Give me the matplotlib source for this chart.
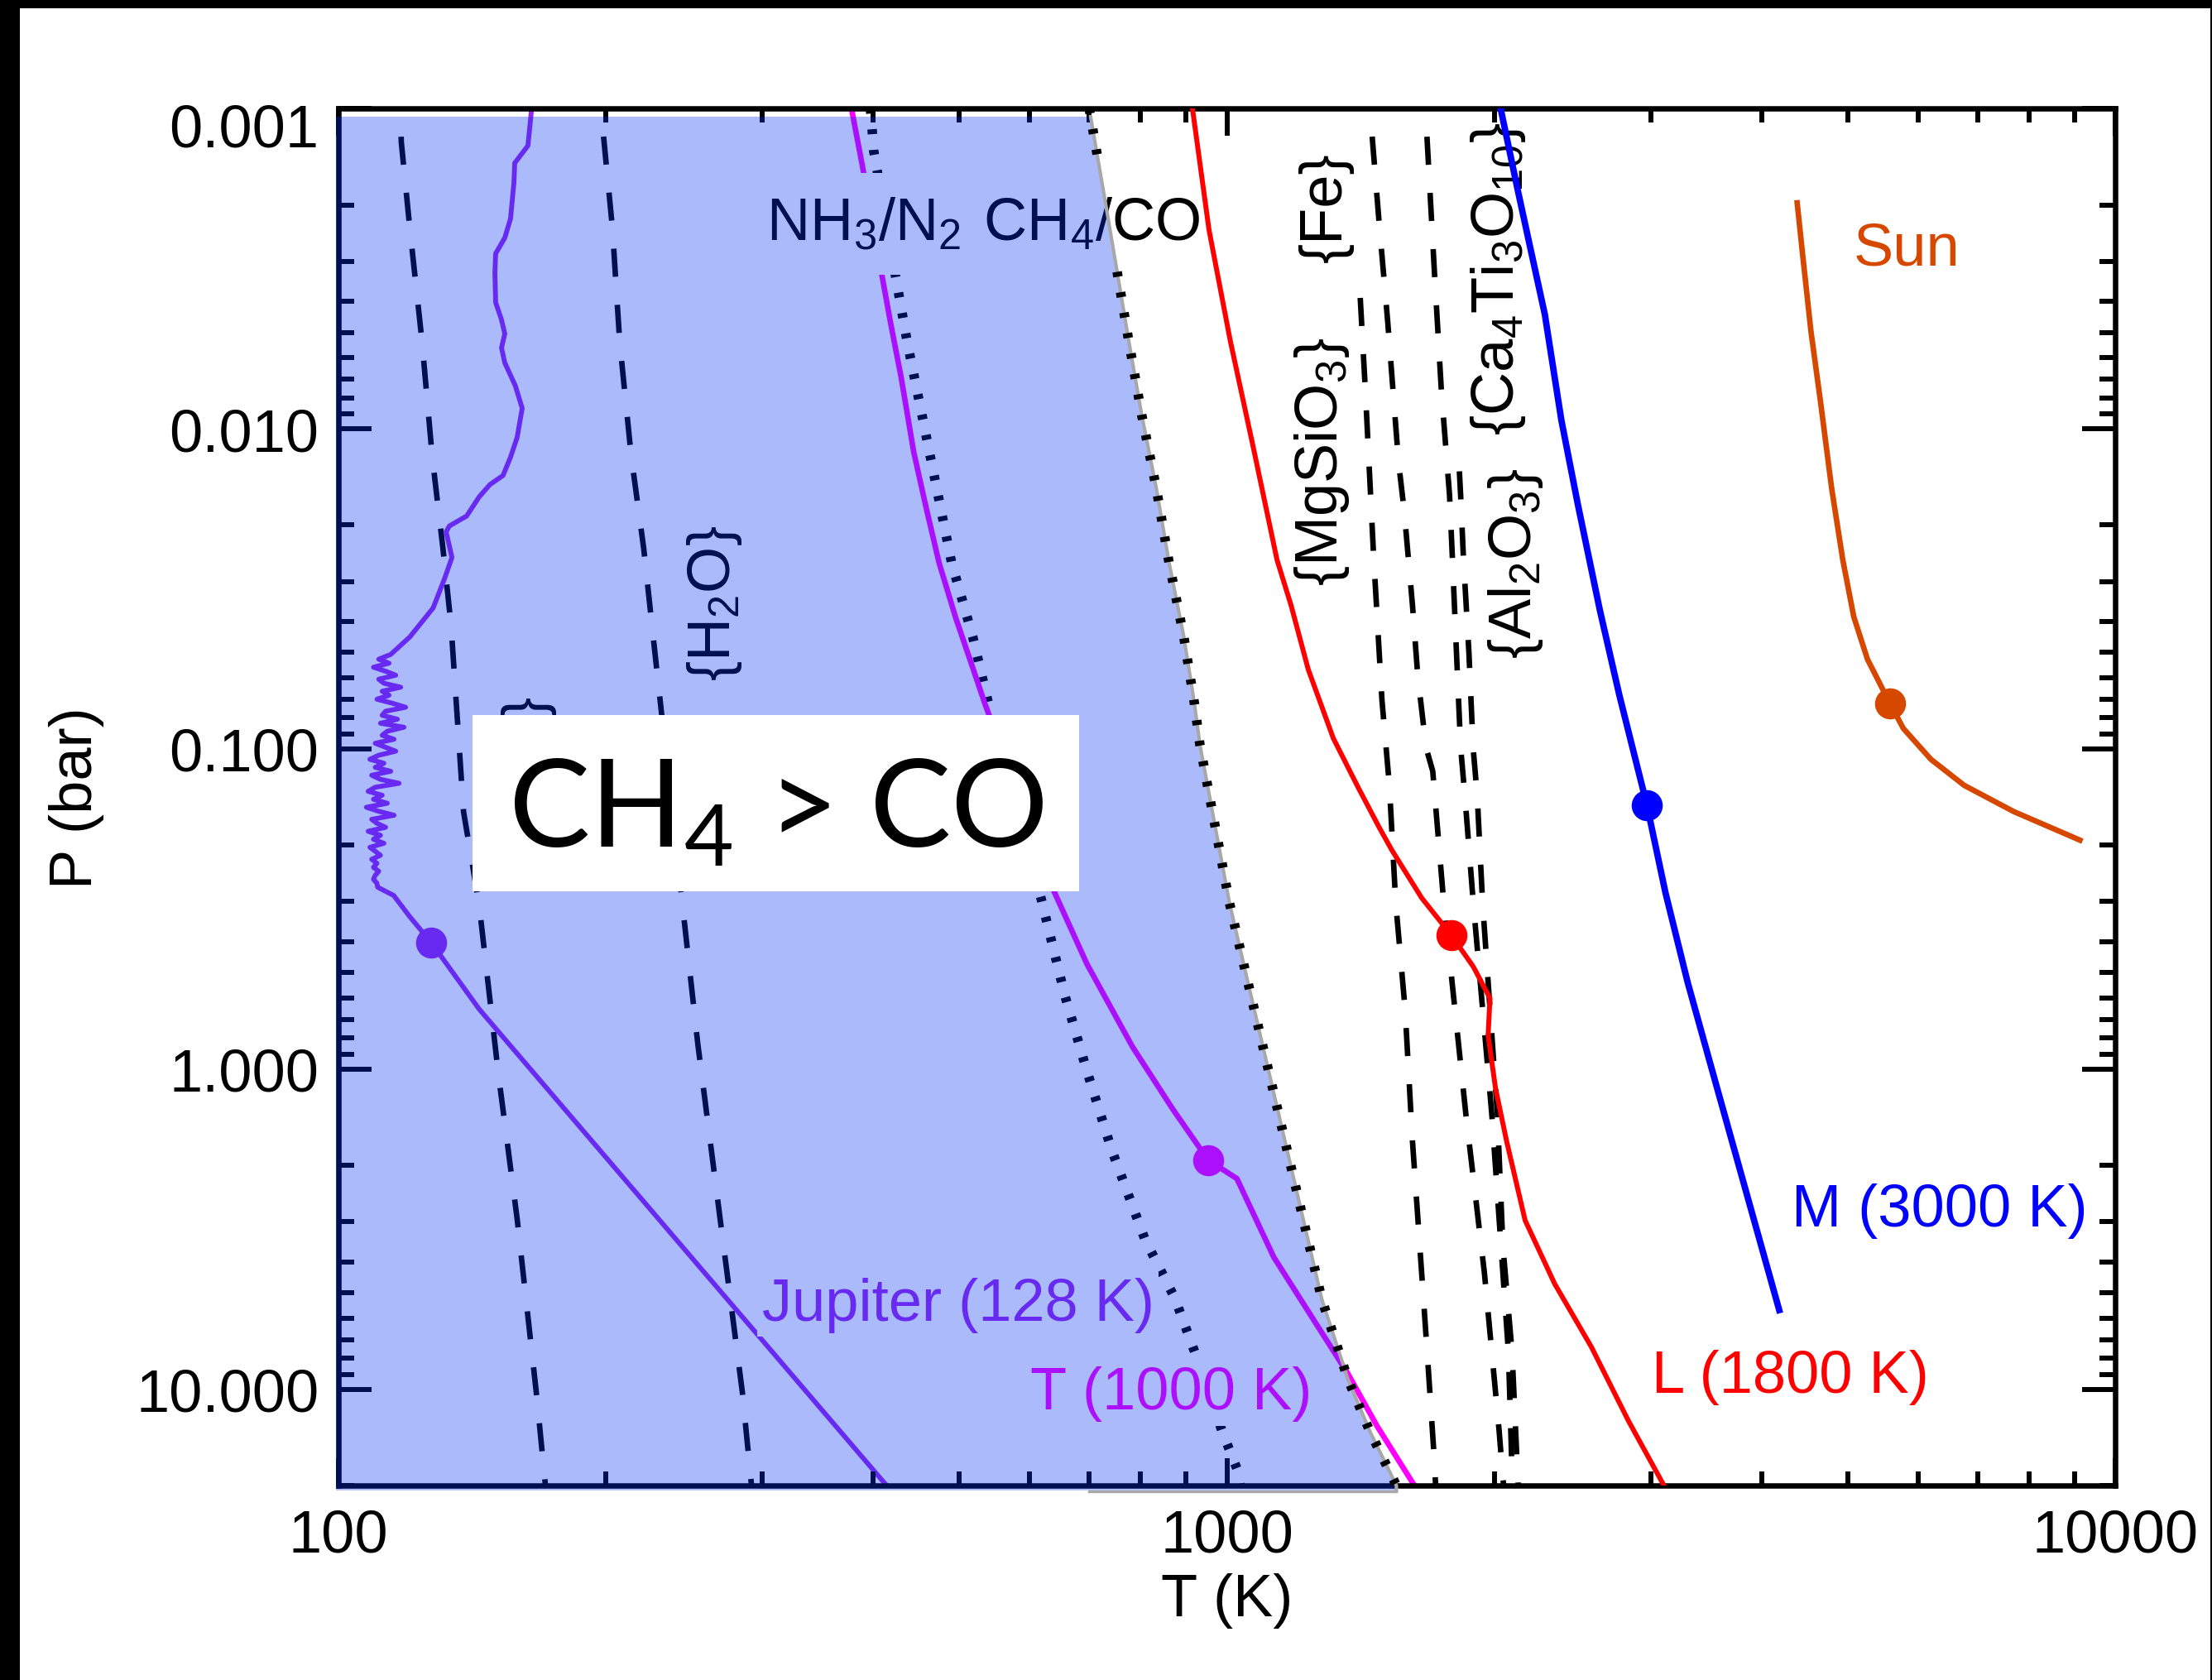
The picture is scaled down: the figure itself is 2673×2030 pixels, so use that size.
import numpy as np
import matplotlib
matplotlib.use('Agg')
import matplotlib.pyplot as plt
from matplotlib.patches import Rectangle, Polygon
from matplotlib.path import Path
from matplotlib.ticker import FixedLocator, NullFormatter, LogLocator
import matplotlib.transforms as mtransforms

plt.rcParams['font.family'] = ['Liberation Sans', 'DejaVu Sans']
plt.rcParams['mathtext.fontset'] = 'custom'
plt.rcParams['mathtext.rm'] = 'Liberation Sans'
plt.rcParams['mathtext.it'] = 'Liberation Sans:italic'
plt.rcParams['mathtext.bf'] = 'Liberation Sans:bold'
plt.rcParams['mathtext.sf'] = 'Lato'
plt.rcParams['mathtext.default'] = 'rm'

# ---------------- data (T in K, P in bar) ----------------
jup_T = [165, 163.4, 157.9, 157.6, 156.2, 153.9, 150.3, 150.0, 150.3, 152.6, 153.9, 152.6,
         153.9, 158.2, 161.0, 158.9, 156.2, 153.2, 148.1, 144.0, 139.4, 133.3, 132.2, 134.2,
         131.6, 127.8, 120.3, 114.5,
         111, 114, 109.5, 113, 116, 111, 112.5, 117.5, 112, 114, 110.5, 115, 119, 113, 112,
         116.5, 111.5, 118.5, 113.5, 112, 115.5, 110, 113, 116, 111, 108.5, 112.5, 110, 114.5,
         109, 111.5, 117, 110, 108, 112, 109.5, 113.5, 107.5, 111, 115.5, 109, 110.5, 113,
         108, 111.5, 109.5, 112.5, 108.5, 110, 111.5, 109, 110.5, 109.5, 111, 110, 109.5, 110.5,
         110.7, 115.4, 120.2, 127.1, 144.0, 414]
jup_P = [0.001, 0.001306, 0.00148, 0.001698, 0.002207, 0.002533, 0.002837, 0.003254, 0.004033,
         0.00457, 0.00505, 0.005591, 0.006223, 0.007354, 0.008636, 0.01064, 0.01227, 0.014,
         0.01494, 0.01633, 0.01874, 0.02013, 0.02099, 0.02525, 0.02948, 0.03631, 0.04473,
         0.0507,
         0.05248, 0.05401, 0.05559, 0.05721, 0.05888, 0.06060, 0.06237, 0.06419, 0.06607,
         0.06800, 0.06998, 0.07202, 0.07413, 0.07629, 0.07852, 0.08081, 0.08318, 0.08560,
         0.08810, 0.09068, 0.09333, 0.09605, 0.09886, 0.1017, 0.1047, 0.1078, 0.1109, 0.1142,
         0.1175, 0.1209, 0.1245, 0.1281, 0.1318, 0.1357, 0.1396, 0.1437, 0.1479, 0.1522,
         0.1567, 0.1612, 0.1660, 0.1708, 0.1758, 0.1809, 0.1862, 0.1916, 0.1972, 0.2030,
         0.2089, 0.2150, 0.2213, 0.2277, 0.2344, 0.2412, 0.2483, 0.2555, 0.2630,
         0.2705, 0.2871, 0.3334, 0.4018, 0.650, 20.0]
jup_dot = (127.1, 0.4018)

tdw_T = [378, 388.7, 406.7, 418.2, 430.0, 444.1, 458.6, 474.3, 495.4, 514.9, 534.0, 638.4,
         696.2, 783.1, 868.4, 952.8, 1026.4, 1129.6, 1243.3, 1368.2, 1476.8, 1626]
tdw_P = [0.001, 0.001502, 0.003041, 0.004653, 0.006929, 0.0118, 0.01759, 0.02622, 0.03907,
         0.05347, 0.0721, 0.2771, 0.471, 0.8525, 1.329, 1.926, 2.199, 3.873, 5.885, 8.935,
         13.07, 20.0]
tdw_dot = (952.8, 1.926)

ldw_T = [914.8, 954.9, 1009, 1070, 1139, 1181, 1235, 1317.9, 1404.6, 1484.5, 1534.5, 1657.1,
         1788.5, 1894.4, 1978, 1968.5, 2006.5, 2065, 2166.5, 2338.8, 2573, 2832.7, 3105]
ldw_P = [0.001, 0.002393, 0.005313, 0.0113, 0.0257, 0.03556, 0.0565, 0.09268, 0.1315, 0.1761,
         0.2076, 0.2922, 0.3813, 0.4791, 0.6013, 0.7849, 1.148, 1.679, 2.969, 4.685, 7.389,
         12.58, 20.0]
ldw_dot = (1788.5, 0.3813)

mdw_T = [2033.5, 2122.6, 2199.8, 2280.2, 2380, 2484.2, 2630.1, 2765.5, 2971.5, 3117.2, 3302.1,
         3563.9, 3847.8, 4186.4]
mdw_P = [0.001, 0.001765, 0.002785, 0.004394, 0.009399, 0.01726, 0.03693, 0.06781, 0.1502,
         0.2814, 0.5368, 1.148, 2.455, 5.664]
mdw_dot = (2971.5, 0.1502)

sun_T = [4385.5, 4448.7, 4544.9, 4660.4, 4795.3, 4935.3, 5078.2, 5262.6, 5579.2, 5773.9,
         6202.1, 6760.8, 7688.4, 9126.6]
sun_P = [0.00197, 0.00287, 0.004959, 0.008281, 0.01534, 0.02563, 0.03864, 0.05253, 0.07223,
         0.0863, 0.1078, 0.13, 0.157, 0.1928]
sun_dot = (5579.2, 0.07223)

# CH4/CO equal-abundance boundary
co_T = [700, 726.9, 750.9, 775.5, 802.0, 833.2, 861.0, 894.5, 919.4, 932.6, 969.1, 1007,
        1056.3, 1108.3, 1162.7, 1219.8, 1279.4, 1368.2, 1449.3, 1552]
co_P = [0.001, 0.001834, 0.003121, 0.005313, 0.009046, 0.01539, 0.02622, 0.04463, 0.0721,
        0.097, 0.1717, 0.3034, 0.5368, 0.9495, 1.679, 2.969, 5.248, 9.285, 13.57, 20.0]

# NH3/N2 equal-abundance boundary
nh3_T = [397, 398.0, 400.3, 422.7, 436.5, 453.7, 471.5, 490.0, 517.6, 539.0, 618.1, 657.1,
         695.7, 741.9, 808.6, 874, 932.6, 988, 1026.4, 1035]
nh3_P = [0.001, 0.001077, 0.00135, 0.003206, 0.005313, 0.009046, 0.01539, 0.02622, 0.04463,
         0.0721, 0.2945, 0.5885, 1.013, 1.789, 3.401, 5.2, 8.47, 13.57, 17.7, 20.0]

# condensation curves
nh3c_T = [117.3, 117.7, 120.3, 124.2, 127.5, 131.1, 133.9, 138.3, 144.0, 151.3, 158.9, 167.0, 171.0]
nh3c_P = [0.001, 0.001277, 0.002356, 0.005362, 0.01221, 0.02364, 0.04115, 0.1573, 0.3066,
          1.028, 2.935, 10.25, 20.0]
h2o_T = [197.4, 199.1, 203.4, 207.3, 213.6, 220.6, 226.1, 241.5, 253.8, 268.9, 284.9, 291.7]
h2o_P = [0.001, 0.001277, 0.002356, 0.005362, 0.01221, 0.02364, 0.04473, 0.2386, 0.8344,
         2.935, 10.25, 20.0]
fe_T = [1407.4, 1432.2, 1463.3, 1495, 1524, 1549.4, 1587.3, 1618, 1649.2, 1681, 1713.5, 1718]
fe_P = [0.003189, 0.007627, 0.02526, 0.07047, 0.13, 0.3034, 0.6493, 1.679, 3.591, 7.68, 17.06, 20.0]
mgsio3_T = [1449, 1458.3, 1484.6, 1516.8, 1538.6, 1560.7, 1583.3, 1618, 1640.6, 1676.1, 1705.3,
            1754.8, 1806, 1858.4, 1903.7, 1949.8, 1987.5, 2025.9, 2045.6, 2050]
mgsio3_P = [0.001, 0.001245, 0.002303, 0.004564, 0.007627, 0.01274, 0.01793, 0.03555, 0.0594,
            0.0992, 0.1174, 0.3034, 0.6493, 1.388, 2.455, 4.341, 7.68, 13.58, 19.11, 20.0]
al2o3_T = [1675, 1680.5, 1712.8, 1744, 1781.4, 1794.3, 1813.5, 1833.3, 1853.2, 1894.4, 1940.6,
           1987.5, 2035.6, 2075, 2094.6, 2100]
al2o3_P = [0.001, 0.001245, 0.003243, 0.007627, 0.01619, 0.02526, 0.05006, 0.0992, 0.1397,
           0.3034, 0.6493, 1.388, 3.591, 7.68, 18.4, 20.0]
cati_T = [1820.2, 1833.3, 1846.4, 1873, 1893.4, 1913.6, 1940.6, 1978.2, 2016.4, 2045.6, 2094.6,
          2124.9, 2128]
cati_P = [0.0111, 0.01619, 0.02526, 0.05006, 0.0992, 0.1397, 0.3034, 0.6493, 1.388, 3.591,
          7.68, 18.4, 20.0]

x_ticks = [100, 1000, 10000]
x_ticklabels = ['100', '1000', '10000']
y_ticks = [0.001, 0.01, 0.1, 1.0, 10.0]
y_ticklabels = ['0.001', '0.010', '0.100', '1.000', '10.000']

# ---------------- styles ----------------
JUP = '#9B28F0'
TCOL = '#FF00FF'
LCOL = '#FF0000'
MCOL = '#0000FF'
SUNCOL = '#D64800'
OVERLAY = (0.0, 48 / 255, 245 / 255, 0.33)
GRAY = '#A8A8A8'
FS = 52
ZLAB = 2.3

fig = plt.figure(figsize=(26.73, 20.31), dpi=100)
fig.patch.set_facecolor('white')
ax = fig.add_axes([409 / 2673, 1 - 1796 / 2031, 2147 / 2673, 1663.8 / 2031])
ax.set_xscale('log')
ax.set_yscale('log')
ax.set_xlim(100, 10000)
ax.set_ylim(20, 0.001)
ax.set_axisbelow(False)

dash = (5.1, (5.1, 5.1))
dot = (0, (0.52, 1.65))

# condensation curves
for T, P in [(nh3c_T, nh3c_P), (h2o_T, h2o_P), (fe_T, fe_P), (mgsio3_T, mgsio3_P),
             (al2o3_T, al2o3_P), (cati_T, cati_P)]:
    ax.plot(T, P, color='black', lw=4.8, ls=dash, dash_capstyle='butt', zorder=2)

# NH3/N2 boundary
ax.plot(nh3_T, nh3_P, color='black', lw=8.3, ls=dot, dash_capstyle='butt', zorder=2)

# profiles
ax.plot(jup_T, jup_P, color=JUP, lw=4.2, zorder=2)
ax.plot([jup_dot[0]], [jup_dot[1]], 'o', ms=26, color=JUP, zorder=2)
ax.plot(tdw_T, tdw_P, color=TCOL, lw=4.8, zorder=2)
ax.plot([tdw_dot[0]], [tdw_dot[1]], 'o', ms=26, color=TCOL, zorder=2)
ax.plot(ldw_T, ldw_P, color=LCOL, lw=4.3, zorder=4)
ax.plot([ldw_dot[0]], [ldw_dot[1]], 'o', ms=26, color=LCOL, zorder=4)
ax.plot(mdw_T, mdw_P, color=MCOL, lw=5.6, zorder=4)
ax.plot([mdw_dot[0]], [mdw_dot[1]], 'o', ms=26, color=MCOL, zorder=4)
ax.plot(sun_T, sun_P, color=SUNCOL, lw=4.8, zorder=4)
ax.plot([sun_dot[0]], [sun_dot[1]], 'o', ms=26, color=SUNCOL, zorder=4)

# labels with erase boxes
box = lambda p: dict(boxstyle='square,pad=%g' % p, fc='white', ec='none')
ax.text(302.8, 0.00256, r'NH$_3$/N$_2$', fontsize=FS, ha='left', va='baseline',
        zorder=ZLAB, bbox=box(0.38))
ax.text(531.8, 0.00256, r'CH$_4$/CO', fontsize=FS, ha='left', va='baseline',
        zorder=ZLAB, bbox=box(0.38))
ax.text(1292, 0.00202, r'{Fe}', fontsize=FS, rotation=90, ha='center', va='center',
        zorder=ZLAB, bbox=box(0.2))
ax.text(1281, 0.01258, r'{MgSiO$_3$}', fontsize=FS, rotation=90, ha='center', va='center',
        zorder=ZLAB, bbox=box(0.15))
ax.text(2023, 0.00339, r'{Ca$_4$Ti$_3$O$_{10}$}', fontsize=FS, rotation=90, ha='center',
        va='center', zorder=ZLAB, bbox=box(0.3))
ax.text(2116, 0.02617, r'{Al$_2$O$_3$}', fontsize=FS, rotation=90, ha='center', va='center',
        zorder=ZLAB, bbox=box(0.15))
ax.text(264.8, 0.03483, r'{H$_2$O}', fontsize=FS, rotation=90, ha='center', va='center',
        zorder=ZLAB)
# closing brace of a label that is otherwise hidden behind the CH4 > CO box
ax.text(163.4, 0.0729, '}', fontsize=FS, rotation=90, ha='center', va='center', zorder=ZLAB)

ax.text(299.6, 6.07, 'Jupiter (128 K)', fontsize=FS, color=JUP, ha='left', va='baseline',
        zorder=ZLAB, bbox=box(0.08))
ax.text(600.2, 11.48, 'T (1000 K)', fontsize=FS, color=TCOL, ha='left', va='baseline',
        zorder=ZLAB, bbox=box(0.08))
ax.text(3008, 10.19, 'L (1800 K)', fontsize=FS, color=LCOL, ha='left', va='baseline', zorder=5)
ax.text(4323, 3.08, 'M (3000 K)', fontsize=FS, color=MCOL, ha='left', va='baseline', zorder=5)
ax.text(5078, 0.00307, 'Sun', fontsize=FS, color=SUNCOL, ha='left', va='baseline', zorder=5)

# CH4-dominated region: translucent overlay
P_top, P_bot, T_left = 0.00106, 20.7, 99.36
lp = np.log10(np.array(co_P))
lt = np.log10(np.array(co_T))
edge_P = [P_top] + [p for p in co_P if p > P_top] + [P_bot]
edge_T = [10 ** np.interp(np.log10(p), lp, lt) for p in edge_P]
poly = list(zip(edge_T, edge_P)) + [(T_left, P_bot), (T_left, P_top)]
ax.add_patch(Polygon(poly, closed=True, fc=OVERLAY, ec='none', zorder=10, clip_on=False,
                     transform=ax.transData))

ax.plot(edge_T, edge_P, color=GRAY, lw=3.0, zorder=11, clip_on=False)
ax.plot([co_T[0], co_T[-1]], [20.8, 20.8], color=GRAY, lw=2.5, zorder=11, clip_on=False)
ln, = ax.plot(co_T, co_P, color='black', lw=8.3, ls=dot, dash_capstyle='butt', zorder=12)
clip_verts = [(50, 1e-4), (5e4, 1e-4), (5e4, 0.0014), (50, 0.0014), (50, 1e-4),
              (50, 0.0031), (5e4, 0.0031), (5e4, 100), (50, 100), (50, 0.0031)]
clip_codes = [Path.MOVETO, Path.LINETO, Path.LINETO, Path.LINETO, Path.CLOSEPOLY] * 2
ln.set_clip_path(Path(clip_verts, clip_codes), ax.transData)

# CH4 > CO box
ax.add_patch(Rectangle((141.6, 0.07832), 681.9 - 141.6, 0.2787 - 0.07832, fc='white',
                       ec='none', zorder=13, transform=ax.transData))
ax.text(310.9, 0.2020, r'CH$_{\mathsf{4}}$ > CO', fontsize=106, family=['Lato', 'DejaVu Sans'],
        ha='center', va='baseline', zorder=14)

# axes styling
for s in ax.spines.values():
    s.set_linewidth(4.7)
ax.xaxis.set_major_locator(FixedLocator(x_ticks))
ax.set_xticklabels(x_ticklabels)
ax.xaxis.set_minor_locator(LogLocator(base=10, subs=np.arange(2, 10)))
ax.xaxis.set_minor_formatter(NullFormatter())
ax.yaxis.set_major_locator(FixedLocator(y_ticks))
ax.set_yticklabels(y_ticklabels)
ax.yaxis.set_minor_locator(LogLocator(base=10, subs=np.arange(2, 10)))
ax.yaxis.set_minor_formatter(NullFormatter())
ax.tick_params(which='both', direction='in', top=True, right=True, width=4.3,
               labelsize=FS, color='black')
ax.tick_params(axis='x', which='major', length=23.8, pad=20)
ax.tick_params(axis='x', which='minor', length=12.2)
ax.tick_params(axis='y', which='major', length=28.8, pad=17)
ax.tick_params(axis='y', which='minor', length=14)

ax.set_xlabel('T (K)', fontsize=FS)
ax.set_ylabel('P (bar)', fontsize=FS)
ax.xaxis.set_label_coords(0.5, -0.063)
ax.yaxis.set_label_coords(-0.132, 0.5)

tk = ax.yaxis.get_major_ticks()
lab = tk[0].label1
lab.set_transform(lab.get_transform() +
                  mtransforms.ScaledTranslation(0, -0.19, fig.dpi_scale_trans))

# black frame strips
fig.add_artist(Rectangle((0, 1 - 11 / 2031), 1, 11 / 2031, transform=fig.transFigure,
                         fc='black', ec='none'))
fig.add_artist(Rectangle((0, 0), 24 / 2673, 1, transform=fig.transFigure, fc='black', ec='none'))
fig.add_artist(Rectangle((1 - 2 / 2673, 0), 2 / 2673, 1, transform=fig.transFigure,
                         fc='black', ec='none'))

fig.savefig('out.png', dpi=100)
